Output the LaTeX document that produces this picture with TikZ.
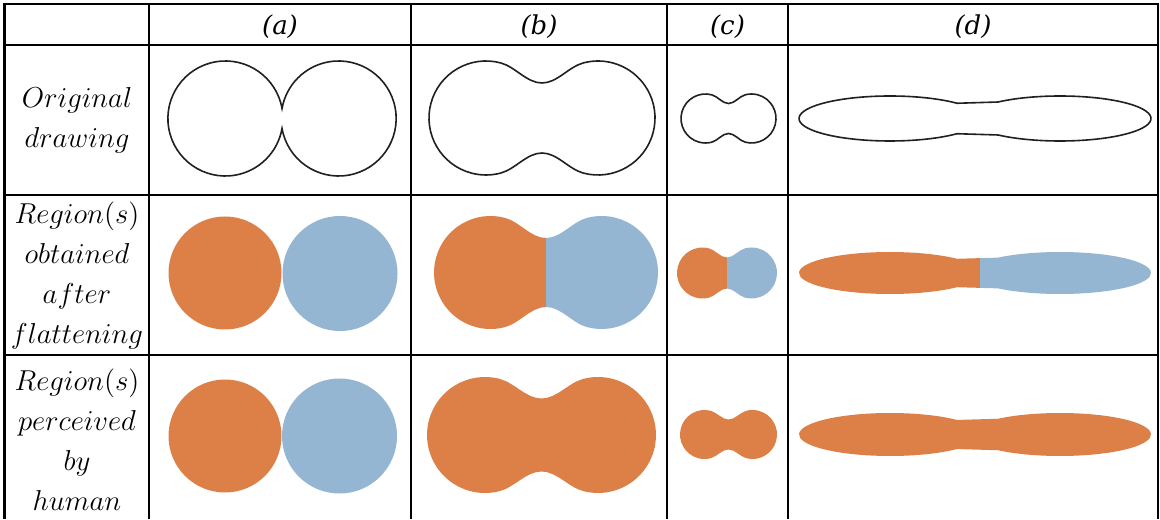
\documentclass[tikz,border=0pt]{standalone}
\usepackage{fontspec}
\newfontfamily\hdrfont{DejaVu Serif}
\definecolor{orng}{HTML}{DD8047}
\definecolor{blu}{HTML}{94B6D2}
\definecolor{outl}{HTML}{202020}
% two round lobes joined by a smooth waist: cx cy dx r h options
\newcommand\lobes[6]{%
  \pgfmathsetmacro\lLx{#1-#3+#4*0.2588}\pgfmathsetmacro\lRx{#1+#3-#4*0.2588}%
  \pgfmathsetmacro\lTy{#2+#4*0.9659}\pgfmathsetmacro\lBy{#2-#4*0.9659}%
  \pgfmathsetmacro\lk{0.27*#3}%
  \pgfmathsetmacro\lkx{\lk*0.9659}\pgfmathsetmacro\lky{\lk*0.2588}%
  \path[#6] (\lLx,\lTy)
    arc[start angle=75, end angle=285, radius=#4]
    .. controls ({\lLx+\lkx},{\lBy+\lky}) and ({#1-\lk},{#2-#5}) .. (#1,{#2-#5})
    .. controls ({#1+\lk},{#2-#5}) and ({\lRx-\lkx},{\lBy+\lky}) .. (\lRx,\lBy)
    arc[start angle=255, end angle=465, radius=#4]
    .. controls ({\lRx-\lkx},{\lTy-\lky}) and ({#1+\lk},{#2+#5}) .. (#1,{#2+#5})
    .. controls ({#1-\lk},{#2+#5}) and ({\lLx+\lkx},{\lTy-\lky}) .. cycle;}
% two long ellipses joined by a narrow waist: cy ry options
\newcommand\dshape[3]{%
  \path[#3] ({890+91*cos(42.6)},{#1+#2*sin(42.6)})
    arc[start angle=42.6, end angle=317.4, x radius=91, y radius=#2]
    -- ({1060+91*cos(227.1)},{#1+#2*sin(227.1)})
    arc[start angle=227.1, end angle=492.9, x radius=91, y radius=#2] -- cycle;}
\begin{document}
\begin{tikzpicture}[x=0.5pt,y=0.5pt,
  grid/.style={line width=1.35pt,black},
  outline/.style={draw=outl,line width=0.8pt},
  hdr/.style={font=\hdrfont\itshape\fontsize{13}{15}\selectfont},
  rowlab/.style={align=center,font=\fontsize{14.4}{20}\selectfont,inner sep=0pt}]
\useasboundingbox (0,0) rectangle (1160,519);
\fill[white] (0,0) rectangle (1160,519);
% grid
\draw[grid] (4.7,0) -- (4.7,515) -- (1158,515) -- (1158,0);
\draw[grid] (4.7,474) -- (1158,474);
\draw[grid] (4.7,324) -- (1158,324);
\draw[grid] (4.7,164) -- (1158,164);
\foreach \xx in {149,411,667,788} \draw[grid] (\xx,0) -- (\xx,515);
% headers
\node[hdr] (ha) at (280,492) {(a)};
\node[hdr] (hb) at (539,492) {(b)};
\node[hdr] (hc) at (727.5,492) {(c)};
\node[hdr] (hd) at (973,492) {(d)};
% row labels
\node[rowlab] (r1) at (77,399) {$Original$\\$drawing$};
\node[rowlab] (r2) at (77,243) {$Region(s)$\\$obtained$\\$after$\\$flattening$};
\node[rowlab] (r3) at (77,79) {$Region(s)$\\$perceived$\\$by$\\$human$};
% row 1 : outlines
\draw[outline] ({225.4+57.5*cos(10)},{400.5+57.5*sin(10)})
  arc[start angle=10, end angle=350, radius=57.5]
  arc[start angle=190, end angle=530, radius=57.5] -- cycle;
\lobes{542}{401}{56}{57}{35}{outline}
\lobes{728.5}{400.5}{23}{24.5}{15}{outline}
\dshape{400.5}{22.5}{outline}
% row 2 : regions after flattening
\fill[orng] (225,246) circle[radius=56.5];
\fill[blu] (340,245.5) circle[radius=57.5];
\begin{scope}
  \clip (411,164) rectangle (546,324);
  \lobes{546}{246.5}{55.5}{56.5}{34.5}{fill=orng}
\end{scope}
\begin{scope}
  \clip (546,164) rectangle (667,324);
  \lobes{546}{246.5}{55.5}{56.5}{34.5}{fill=blu}
\end{scope}
\begin{scope}
  \clip (667,164) rectangle (727,324);
  \lobes{727}{246}{24.5}{25.5}{15.5}{fill=orng}
\end{scope}
\begin{scope}
  \clip (727,164) rectangle (788,324);
  \lobes{727}{246}{24.5}{25.5}{15.5}{fill=blu}
\end{scope}
\begin{scope}
  \clip (788,164) rectangle (980,324);
  \dshape{246}{21}{fill=orng}
\end{scope}
\begin{scope}
  \clip (980,164) rectangle (1158,324);
  \dshape{246}{21}{fill=blu}
\end{scope}
% row 3 : regions perceived by human
\fill[orng] (225,83) circle[radius=56.5];
\fill[blu] (339.5,83) circle[radius=57.5];
\lobes{541.5}{84}{56.5}{58}{36.5}{fill=orng}
\lobes{728.5}{84.5}{24}{24.5}{15}{fill=orng}
\dshape{84.5}{21.5}{fill=orng}
\end{tikzpicture}
\end{document}
